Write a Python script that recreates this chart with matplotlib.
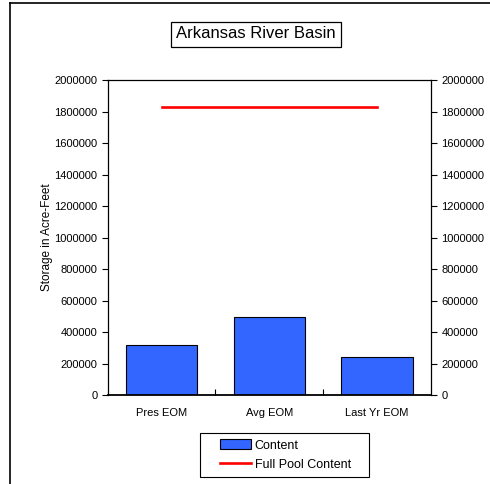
import matplotlib
matplotlib.use('Agg')
import matplotlib.pyplot as plt
from matplotlib.lines import Line2D
from matplotlib.patches import Patch, Rectangle

plt.rcParams['font.family'] = ['Liberation Sans', 'DejaVu Sans']

# data
categories = ['Pres EOM', 'Avg EOM', 'Last Yr EOM']
content = [316000, 494000, 240000]
full_pool = [1828000, 1828000, 1828000]
y_ticks = [0, 200000, 400000, 600000, 800000, 1000000, 1200000,
           1400000, 1600000, 1800000, 2000000]

W, H = 490, 484
fig = plt.figure(figsize=(W / 100, H / 100), dpi=100)

# outer frame (left and top edges only visible)
fig.add_artist(Line2D([10 / W, 10 / W], [0, 1 - 3 / H], color='black', lw=1.2))
fig.add_artist(Line2D([10 / W, 1], [1 - 3 / H, 1 - 3 / H], color='black', lw=1.2))

ax = fig.add_axes([107.7 / W, 89 / H, (431 - 107.7) / W, (395 - 80.3) / H])

x = list(range(len(categories)))
ax.bar(x, content, width=0.664, color='#3366FF', edgecolor='black', linewidth=0.8, zorder=2)
ax.plot(x, full_pool, color='red', lw=1.9, zorder=3)

ax.set_xlim(-0.5, len(categories) - 0.5)
ax.set_ylim(0, 2000000)
ax.set_yticks(y_ticks)
ax.set_yticklabels([str(v) for v in y_ticks])
ax.tick_params(axis='y', which='both', left=True, right=True, labelleft=True,
               labelright=True, direction='out', length=4, labelsize=8, width=0.8)

# category boundaries as inward ticks, labels at the centres
ax.set_xticks([0.5, 1.5])
ax.set_xticklabels([])
ax.tick_params(axis='x', which='major', direction='in', length=4, width=0.8)
ax.set_xticks(x, minor=True)
ax.set_xticklabels(categories, minor=True)
ax.tick_params(axis='x', which='minor', length=0, labelsize=8, pad=9)

for s in ax.spines.values():
    s.set_linewidth(0.9)
ax.spines['bottom'].set_linewidth(1.3)

ax.set_ylabel('Storage in Acre-Feet', fontsize=8.5, labelpad=1)

fig.text(256 / W, 1 - 34 / H, 'Arkansas River Basin', fontsize=12, ha='center', va='center',
         bbox=dict(boxstyle='square,pad=0.3', facecolor='white', edgecolor='black', lw=0.9))

# legend box drawn separately so it can be wider than its entries
fig.add_artist(Rectangle((200 / W, (H - 477) / H), 169 / W, 44 / H, fill=False,
                         edgecolor='black', lw=0.8))
handles = [Patch(facecolor='#3366FF', edgecolor='black', linewidth=0.8, label='Content'),
           Line2D([0], [0], color='red', lw=1.9, label='Full Pool Content')]
leg = fig.legend(handles=handles, loc='center left', bbox_to_anchor=(220 / W, (H - 455) / H),
                 fontsize=9, frameon=False, handlelength=2.48, handleheight=0.8,
                 handletextpad=0.3, borderpad=0, labelspacing=0.55, borderaxespad=0)

fig.savefig('out.png', dpi=100)
